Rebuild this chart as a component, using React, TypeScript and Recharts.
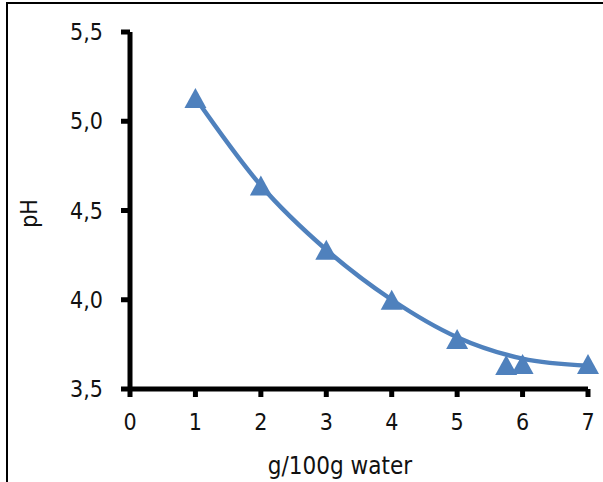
import React from "react"
import { ComposedChart, Line, Scatter, XAxis, YAxis, Label } from "recharts"

// measured points (g/100g water -> pH)
const concentrations = [1, 2, 3, 4, 5, 5.75, 6, 7]
const phValues = [5.13, 4.64, 4.28, 4.0, 3.78, 3.635, 3.64, 3.64]

// smooth trend curve
const trendX = [1, 2, 3, 4, 5, 6, 7]
const trendY = [5.13, 4.64, 4.28, 4.0, 3.79, 3.67, 3.63]

const xTicks = [0, 1, 2, 3, 4, 5, 6, 7]
const yTicks = [3.5, 4.0, 4.5, 5.0, 5.5]

const BLUE = "#4F81BD"
const FONT = "'DejaVu Sans Condensed', 'DejaVu Sans', sans-serif"
const TEXT = "#111"

const points = concentrations.map((x, i) => ({ x, y: phValues[i] }))
const trend = trendX.map((x, i) => ({ x, y: trendY[i] }))

const Triangle = (props: any) => {
    const { cx, cy } = props
    if (cx == null || cy == null) return null
    const w = 11
    const h = 10
    return <polygon points={`${cx - w},${cy + h} ${cx + w},${cy + h} ${cx},${cy - h}`} fill={BLUE} />
}

const fmt = (v: number) => v.toFixed(1).replace(".", ",")

export default function App() {
    return (
        <div style={{ position: "fixed", left: 0, top: 0, width: 603, height: 482, background: "#fff" }}>
            <div
                style={{
                    position: "absolute",
                    left: 6,
                    top: 2,
                    right: 0,
                    bottom: 0,
                    borderTop: "2px solid #000",
                    borderLeft: "2px solid #000",
                }}
            />
            <div style={{ position: "absolute", left: 0, top: 0 }}>
                <ComposedChart width={603} height={482} margin={{ top: 32, right: 15, bottom: 33, left: 60 }}>
                    <XAxis
                        dataKey="x"
                        type="number"
                        domain={[0, 7]}
                        ticks={xTicks}
                        height={60}
                        axisLine={{ stroke: "#000", strokeWidth: 5 }}
                        tickLine={{ stroke: "#000", strokeWidth: 5 }}
                        tickSize={8}
                        tickMargin={17}
                        tick={{ fill: TEXT, fontSize: 23, fontFamily: FONT }}
                        interval={0}
                    >
                        <Label
                            value="g/100g water"
                            position="insideBottom"
                            offset={-25}
                            dx={-19}
                            style={{ fill: TEXT, fontSize: 24, fontFamily: FONT }}
                        />
                    </XAxis>
                    <YAxis
                        dataKey="y"
                        type="number"
                        domain={[3.5, 5.5]}
                        ticks={yTicks}
                        width={70}
                        axisLine={{ stroke: "#000", strokeWidth: 5 }}
                        tickLine={{ stroke: "#000", strokeWidth: 5 }}
                        tickSize={9}
                        tickMargin={18}
                        tickFormatter={fmt}
                        tick={{ fill: TEXT, fontSize: 23, fontFamily: FONT }}
                        interval={0}
                    >
                        <Label
                            value="pH"
                            angle={-90}
                            position="insideLeft"
                            offset={-31}
                            dy={3}
                            style={{ fill: TEXT, fontSize: 23, fontFamily: FONT, textAnchor: "middle" }}
                        />
                    </YAxis>
                    <Line
                        data={trend}
                        dataKey="y"
                        type="monotone"
                        stroke={BLUE}
                        strokeWidth={4.5}
                        dot={false}
                        activeDot={false}
                        isAnimationActive={false}
                    />
                    <Scatter data={points} dataKey="y" shape={<Triangle />} isAnimationActive={false} />
                </ComposedChart>
            </div>
        </div>
    )
}
